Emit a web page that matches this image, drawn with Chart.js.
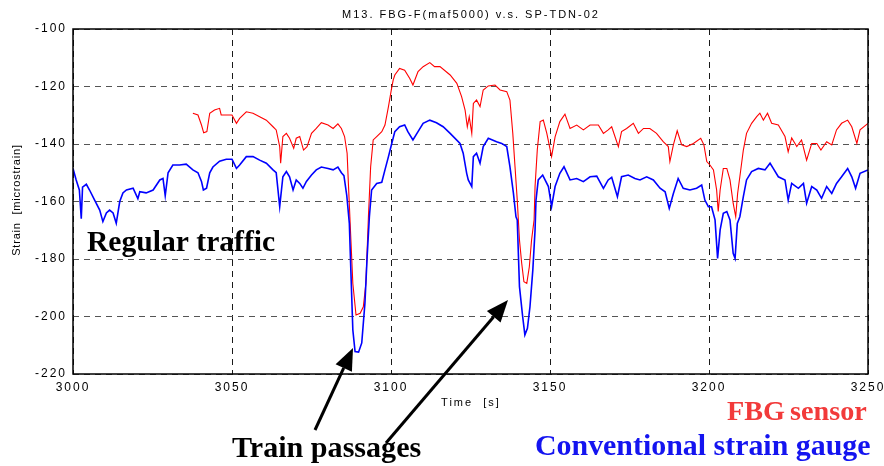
<!DOCTYPE html>
<html>
<head>
<meta charset="utf-8">
<title>M13 strain</title>
<script src="https://cdn.jsdelivr.net/npm/chart.js@4"></script>
<style>
  body { margin: 0; background: #fff; }
  #wrap { width: 884px; height: 466px; }
</style>
</head>
<body>
<div id="wrap"><canvas id="myChart" width="884" height="466"></canvas></div>
<script>
'use strict'

// values (time in s, strain in microstrain)
let gaugeTime = [3000, 3001, 3002, 3002.6, 3003, 3004.2, 3005.2, 3006.8, 3008.4, 3009.4, 3010.5, 3011.5, 3012.6, 3013.6, 3014.7, 3015.7, 3016.8, 3018.9, 3020.4, 3021,
  3023, 3025.2, 3027.3, 3028.3, 3029, 3029.9, 3031.4, 3033.5, 3035.6, 3037.7, 3039.3, 3040.4, 3041, 3042, 3043, 3044, 3046.1, 3048.2, 3050, 3051.4,
  3052.4, 3054.5, 3056.6, 3058.7, 3060.8, 3062.9, 3063.9, 3065, 3066, 3067.1, 3068.1, 3069.2, 3070.2, 3071.3, 3072.3, 3073.4, 3075, 3076.5, 3078.1, 3080.2,
  3081.8, 3083.3, 3084.4, 3085.2, 3086.1, 3086.9, 3087.3, 3088, 3088.7, 3089.8, 3090.8, 3091.8, 3092.5, 3093.2, 3093.9, 3095.5, 3097.1, 3098.1, 3099.2, 3100.2,
  3101.2, 3102.7, 3104.3, 3105.3, 3106.9, 3108.5, 3110.1, 3112.2, 3114.3, 3116.4, 3118.6, 3121.7, 3122.7, 3123.8, 3124.3, 3125.4, 3125.9, 3126.9, 3128, 3129,
  3130.6, 3133.2, 3134.8, 3136.4, 3137.4, 3138.5, 3139.3, 3139.7, 3140.4, 3141.4, 3142.1, 3142.9, 3143.7, 3144.6, 3145.3, 3145.6, 3146.3, 3147.7, 3149.5, 3150.5,
  3151.6, 3153.1, 3154.4, 3156.3, 3158.4, 3160.5, 3162.6, 3164.7, 3166.8, 3168.3, 3169.4, 3171.2, 3172.5, 3174.6, 3176.7, 3178.3, 3180.4, 3182.5, 3184.6, 3186.2,
  3187.5, 3188.8, 3190.3, 3191.9, 3194, 3196.1, 3197.7, 3198.7, 3199.8, 3200.8, 3201.9, 3202.7, 3203.5, 3204.5, 3205.6, 3206.6, 3207.6, 3208.2, 3208.9,
  3209.7, 3210.8, 3211.8, 3213.4, 3215.5, 3217.6, 3219.2, 3220.2, 3221.8, 3223.9, 3224.9, 3226, 3228.1, 3229.7, 3230.7, 3232.3, 3233.9, 3235.4, 3237, 3238.6,
  3240.1, 3241.7, 3243.6, 3244.9, 3246.1, 3247.5, 3250];
let gaugeStrain = [-148.5, -152.5, -156, -166, -155, -154, -156, -159.5, -163, -167, -164, -163, -164, -167.6, -160, -157, -156, -155.4, -159, -156.6,
  -157, -156, -152.5, -152, -158, -150, -147.3, -147.3, -147, -149, -150, -153, -156, -155.4, -150, -148, -146, -145.3, -145.3, -148.5,
  -147.3, -144.4, -144.4, -145.6, -146.7, -149, -150, -161.8, -151.4, -149.6, -151.4, -156, -152.5, -153.7, -155.4, -153, -150.8, -149, -148, -148.5,
  -149, -148, -150, -151, -158, -167.6, -181.5, -204.7, -212.2, -212.4, -209.2, -195.4, -179.2, -165.3, -156, -153.7, -153.3, -149, -144.4, -140,
  -135.7, -134, -133.4, -135.7, -138.6, -135.7, -132.8, -131.7, -132.6, -134, -136.3, -139.8, -143.2, -150.2, -152.5, -154.8, -144.4, -143.2, -146.7, -140.9,
  -138, -139.2, -139.8, -140.9, -147.9, -157.2, -165.3, -166.4, -189.6, -200, -206.4, -204.1, -196.6, -183.8, -169.9, -159.5, -152.5, -150.8, -154.8, -161.8,
  -154.8, -150.2, -147.9, -152.5, -152, -153.1, -151.4, -151.2, -155.4, -152.5, -151.6, -158.3, -151.4, -150.8, -152, -152.5, -151.4, -152.5, -155.4, -156.6,
  -162.4, -157.2, -152, -155.4, -156, -155.4, -154.3, -159.5, -161.8, -161.8, -166.4, -179.8, -169.9, -164.1, -163.5, -166.4, -178, -179.8, -167.6,
  -165.3, -158.3, -152.5, -149.6, -148.5, -149, -146.7, -148.5, -151.4, -152.5, -159.5, -153.7, -155.4, -153.7, -160.6, -154.8, -156, -158.9, -154.8, -157.2,
  -153.7, -151.4, -148.5, -151.4, -155.4, -150.2, -149];

let fbgTime = [3037.7, 3039.3, 3040.4, 3041.1, 3042.1, 3043, 3044.5, 3046.1, 3046.6, 3048.2, 3050, 3051.4, 3052.4, 3054.5, 3056.6, 3058.7, 3060.8, 3062.9, 3063.9, 3065,
  3065.3, 3066, 3067.1, 3068.1, 3069.4, 3070.2, 3071.3, 3072.5, 3073.6, 3075, 3076.5, 3078.1, 3080.2, 3081.8, 3083.3, 3084.4, 3085.4, 3086.2, 3086.6, 3087.3,
  3088, 3089, 3090.3, 3091.3, 3092.1, 3092.9, 3093.6, 3094.4, 3095.5, 3097.1, 3098.1, 3099.2, 3100.1, 3100.7, 3101.2, 3102.7, 3104.3, 3105.9, 3106.9, 3108.5,
  3110.1, 3112.2, 3113.7, 3115.4, 3118.6, 3120.7, 3122.2, 3123.3, 3124, 3124.6, 3125.4, 3125.9, 3126.9, 3128, 3129, 3130.6, 3132.7, 3134.3, 3136.4, 3137.4,
  3138.3, 3139, 3139.7, 3140.4, 3141.1, 3141.8, 3142.7, 3143.5, 3144.2, 3145, 3145.3, 3146, 3146.9, 3147.9, 3149, 3150.5, 3151.6, 3153.1, 3154.7, 3156.3,
  3158.4, 3160.5, 3162.6, 3165.2, 3166.8, 3168.3, 3169.4, 3171.5, 3172.5, 3174.1, 3176.2, 3177.8, 3179.4, 3181.4, 3183.5, 3185.6, 3187.2, 3187.7, 3188.8, 3190,
  3191.4, 3193, 3195.1, 3197.4, 3198.4, 3199.3, 3200.3, 3201.4, 3202.4, 3202.9, 3203.5, 3204.5, 3205.6, 3206.6, 3207.6, 3208.4, 3209, 3209.7, 3210.8, 3211.8,
  3213.4, 3215, 3216, 3217.1, 3218.4, 3219.7, 3221.8, 3223.9, 3224.9, 3226, 3227.6, 3229.1, 3230.7, 3232.3, 3233.9, 3235.2, 3237, 3238.6, 3240.1, 3241.7,
  3243.6, 3244.9, 3246.5, 3247.5, 3250];
let fbgStrain = [-129.3, -129.9, -133.4, -136.1, -135.7, -129.3, -128.2, -127.6, -129.9, -129.9, -129.9, -132.8, -131.1, -128.8, -129.3, -130.5, -131.7, -134, -135.1, -140.9,
  -146.7, -137.4, -136.3, -138, -141.5, -138, -137.4, -142.1, -140.9, -136.3, -134.6, -132.6, -133.4, -134.6, -133, -134.6, -137.4, -143.2, -153.7, -171.1,
  -188.5, -199.5, -198.9, -196.6, -188.5, -165.3, -147.9, -138.6, -137.4, -135.7, -133.4, -127, -121.2, -117.7, -116, -113.7, -114.3, -117.2, -119.5, -114.8,
  -113.1, -111.7, -113.1, -113.1, -116, -118.9, -123.5, -128.2, -134, -130.5, -136.3, -125.9, -124.7, -127, -121.2, -119.8, -119.5, -121.2, -121.8, -124.7,
  -136.3, -147.9, -159.5, -173.4, -181.5, -187.9, -188.5, -182.7, -173.4, -166.4, -154.8, -142.1, -132.2, -131.7, -136.3, -144.4, -137.5, -132.2, -129.6, -134.6,
  -133.4, -135.1, -133.4, -133.4, -136.3, -135.1, -134, -140.9, -135.7, -134.6, -132.8, -136.3, -134.6, -134.6, -136.3, -139.2, -140.9, -146.1, -140.3, -135.4,
  -140.3, -140.9, -139.8, -138, -140.3, -146.1, -147.3, -149, -156, -163.5, -156, -148.5, -148.5, -152.5, -160.6, -165.3, -157.2, -151.4, -142.1, -136.3,
  -132.8, -130.5, -129.3, -131.7, -129.3, -132.8, -133.4, -137.4, -142.7, -137.9, -140.9, -138.6, -145.6, -139.8, -139.8, -142.1, -139.2, -140.3, -135.1, -132.8,
  -131.7, -134, -139.8, -135.1, -132.8];

let xTicks = [3000, 3050, 3100, 3150, 3200, 3250];
let yTicks = [-220, -200, -180, -160, -140, -120, -100];

function toPoints(xs, ys) {
  let pts = [];
  for (let i = 0; i < xs.length; i++) {
    pts.push({x: xs[i], y: ys[i]});
  }
  return pts;
}

// draw bold serif text squeezed/stretched to a given width, returns the font size
function fitText(ctx, text, x, y, w, color) {
  ctx.font = 'bold 40px "Liberation Serif"';
  let size = 40 * w / ctx.measureText(text).width;
  ctx.font = 'bold ' + size.toFixed(1) + 'px "Liberation Serif"';
  ctx.fillStyle = color;
  ctx.textAlign = 'left';
  ctx.textBaseline = 'alphabetic';
  ctx.fillText(text, x, y);
  return size;
}

// same font size, but spread the letters out to the width
function spacedText(ctx, text, x, y, w, size, color) {
  ctx.font = 'bold ' + size.toFixed(1) + 'px "Liberation Serif"';
  let extra = (w - ctx.measureText(text).width) / (text.length - 1);
  ctx.letterSpacing = Math.max(extra, 0).toFixed(2) + 'px';
  ctx.fillStyle = color;
  ctx.textAlign = 'left';
  ctx.textBaseline = 'alphabetic';
  ctx.fillText(text, x, y);
  ctx.letterSpacing = '0px';
}

function arrow(ctx, x1, y1, x2, y2) {
  let a = Math.atan2(y2 - y1, x2 - x1);
  let len = 22, half = 9;
  let bx = x2 - len * Math.cos(a), by = y2 - len * Math.sin(a);
  ctx.strokeStyle = '#000';
  ctx.lineWidth = 3;
  ctx.beginPath();
  ctx.moveTo(x1, y1);
  ctx.lineTo(bx, by);
  ctx.stroke();
  ctx.fillStyle = '#000';
  ctx.beginPath();
  ctx.moveTo(x2, y2);
  ctx.lineTo(bx + half * Math.sin(a), by - half * Math.cos(a));
  ctx.lineTo(bx - half * Math.sin(a), by + half * Math.cos(a));
  ctx.closePath();
  ctx.fill();
}

let spacing = {
  id: 'spacing',
  beforeDraw(chart) { chart.ctx.letterSpacing = '2px'; },
  afterDraw(chart) { chart.ctx.letterSpacing = '0px'; }
};

let extras = {
  id: 'extras',
  afterDraw(chart) {
    let ctx = chart.ctx;
    let a = chart.chartArea;
    ctx.save();
    // frame round the plot
    ctx.strokeStyle = '#000';
    ctx.lineWidth = 1.5;
    ctx.setLineDash([]);
    ctx.strokeRect(a.left, a.top, a.right - a.left, a.bottom - a.top);

    // titles
    ctx.fillStyle = '#000';
    ctx.textAlign = 'center';
    ctx.textBaseline = 'middle';
    ctx.font = '11px "Liberation Sans"';
    ctx.letterSpacing = '2px';
    ctx.fillText('M13. FBG-F(maf5000) v.s. SP-TDN-02', 471, 15);
    ctx.fillText('Time  [s]', 471, 403);
    ctx.letterSpacing = '0.8px';
    ctx.save();
    ctx.translate(17, 200);
    ctx.rotate(-Math.PI / 2);
    ctx.fillText('Strain  [microstrain]', 0, 0);
    ctx.restore();
    ctx.letterSpacing = '0px';

    // annotations
    fitText(ctx, 'Regular traffic', 87, 251, 188, '#000');
    fitText(ctx, 'Train passages', 232, 457, 189, '#000');
    let s = fitText(ctx, 'FBG', 727, 420, 58, '#f23a3a');
    spacedText(ctx, 'sensor', 790, 420, 76, s, '#f23a3a');
    fitText(ctx, 'Conventional strain gauge', 535, 455, 336, '#1414f0');
    arrow(ctx, 315, 430, 353, 348);
    arrow(ctx, 386, 443, 508, 300);
    ctx.restore();
  }
};

const config = {
  type: 'line',
  data: {
    datasets: [
      {
        label: 'Conventional strain gauge',
        data: toPoints(gaugeTime, gaugeStrain),
        borderColor: '#0000ff',
        borderWidth: 1.6,
        pointRadius: 0,
        tension: 0
      },
      {
        label: 'FBG sensor',
        data: toPoints(fbgTime, fbgStrain),
        borderColor: '#ff0000',
        borderWidth: 1.1,
        pointRadius: 0,
        tension: 0
      }
    ]
  },
  options: {
    responsive: false,
    animation: false,
    layout: { padding: { top: 29, right: 16, left: 0, bottom: 0 } },
    plugins: {
      legend: { display: false },
      tooltip: { enabled: false },
      title: { display: false }
    },
    scales: {
      x: {
        type: 'linear',
        min: 3000,
        max: 3250,
        afterBuildTicks(scale) { scale.ticks = xTicks.map(v => ({value: v})); },
        afterFit(scale) {
          scale.height = 92;
          scale.paddingLeft = 0;
          scale.paddingRight = 0;
        },
        ticks: {
          color: '#000',
          font: { family: 'Liberation Sans', size: 12 },
          padding: 6,
          maxRotation: 0,
          callback: v => String(v)
        },
        grid: { color: '#1a1a1a', lineWidth: 1, drawTicks: false },
        border: { display: false, dash: [6, 5] }
      },
      y: {
        type: 'linear',
        min: -220,
        max: -100,
        afterBuildTicks(scale) { scale.ticks = yTicks.map(v => ({value: v})); },
        afterFit(scale) {
          scale.width = 73;
          scale.paddingTop = 0;
          scale.paddingBottom = 0;
        },
        ticks: { color: '#000', font: { family: 'Liberation Sans', size: 12 }, padding: 6 },
        grid: { color: '#555', lineWidth: 1, drawTicks: false },
        border: { display: false, dash: [6, 5] }
      }
    }
  },
  plugins: [spacing, extras]
};

var myChart = new Chart(document.getElementById('myChart'), config);
</script>
</body>
</html>
